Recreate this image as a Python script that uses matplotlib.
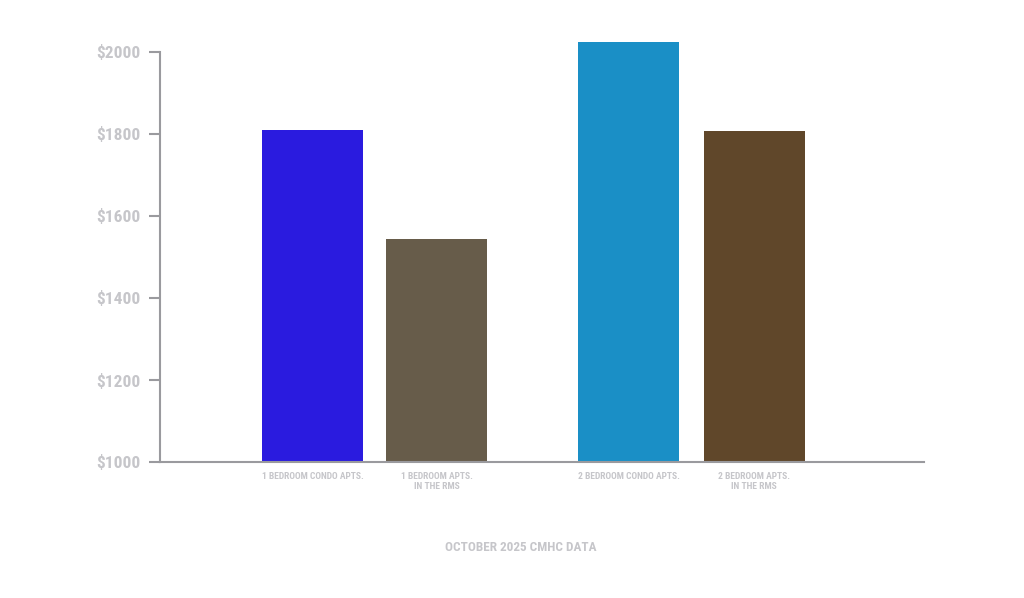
import matplotlib
matplotlib.use("Agg")
import matplotlib.pyplot as plt
from matplotlib import font_manager

categories = ["1 BEDROOM CONDO APTS.", "1 BEDROOM APTS.\nIN THE RMS",
              "2 BEDROOM CONDO APTS.", "2 BEDROOM APTS.\nIN THE RMS"]
rents = [1810, 1544, 2025, 1807]
colors = ["#2a1bdf", "#675c4a", "#1a8fc6", "#60472a"]
yticks = [1000, 1200, 1400, 1600, 1800, 2000]
ytick_labels = ["$1000", "$1200", "$1400", "$1600", "$1800", "$2000"]
xlabel = "OCTOBER 2025 CMHC DATA"

names = {f.name for f in font_manager.fontManager.ttflist}
fam = [n for n in ["Liberation Sans Narrow", "Roboto Condensed", "DejaVu Sans"] if n in names] or ["DejaVu Sans"]
plt.rcParams['font.family'] = fam

txt = "#c6c6ca"
axc = "#9a9a9e"

fig = plt.figure(figsize=(10.24, 5.98), dpi=100)
W, H = 1024, 598
ymin, ymax = 1000, 2050
ppu = 410 / 1000
top_px = 462 - (ymax - ymin) * ppu
ax = fig.add_axes([160 / W, 1 - 462 / H, (924 - 160) / W, (462 - top_px) / H])

positions = [0, 1, 2.55, 3.56]
ax.bar(positions, rents, width=0.815, color=colors, bottom=0)
ax.set_ylim(ymin, ymax)
ax.set_xlim(-1.23, 4.93)

for s in ["top", "right"]:
    ax.spines[s].set_visible(False)
ax.spines["left"].set_bounds(1000, 2000)
ax.spines["left"].set_color(axc)
ax.spines["bottom"].set_color(axc)
ax.spines["left"].set_linewidth(1.5)
ax.spines["bottom"].set_linewidth(1.5)

ax.set_yticks(yticks)
ax.set_yticklabels(ytick_labels, fontsize=12.5, color=txt, fontweight="bold")
ax.tick_params(axis="y", length=8, width=1.5, color=axc, pad=6)
ax.set_xticks(positions)
ax.set_xticklabels(categories, fontsize=6.8, color=txt, fontweight="bold", linespacing=1.15)
ax.tick_params(axis="x", length=0, pad=7)
ax.set_xlabel(xlabel, fontsize=9.5, color=txt, fontweight="bold")
ax.xaxis.set_label_coords((521 - 160) / 764, (462 - 541) / (462 - top_px))

fig.savefig("out.png", dpi=100, facecolor="white")
